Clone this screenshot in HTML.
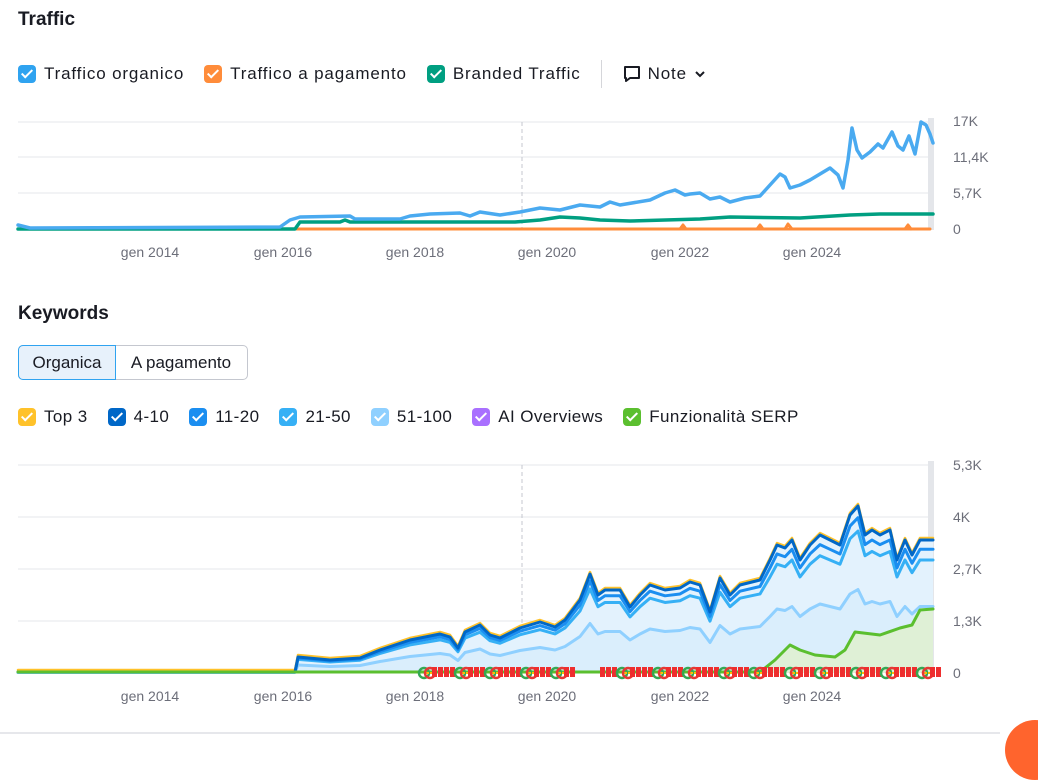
<!DOCTYPE html>
<html><head><meta charset="utf-8"><style>
body{margin:0;width:1038px;height:738px;background:#fff;font-family:"Liberation Sans",sans-serif;color:#191b23;position:relative;overflow:hidden}
.t{position:absolute;font-weight:bold;font-size:19px}
.lg{position:absolute;display:flex;align-items:center;font-size:17px;color:#191b23;letter-spacing:0.85px}
.cb{width:18px;height:18px;border-radius:4px;margin-right:8px;position:relative;display:inline-block}
.cb:after{content:"";position:absolute;left:6px;top:2px;width:4px;height:9px;border:solid #fff;border-width:0 2px 2px 0;transform:rotate(45deg)}
.it{display:flex;align-items:center;margin-right:20px}
.ax{position:absolute;font-size:14px;color:#6c6e79}
</style></head><body>
<div class="t" style="left:18px;top:9px">Traffic</div>
<div class="lg" style="left:18px;top:60px">
<span class="it"><span class="cb" style="background:#2fa3f0"></span>Traffico organico</span>
<span class="it"><span class="cb" style="background:#ff8c3a"></span>Traffico a pagamento</span>
<span class="it"><span class="cb" style="background:#009f81"></span>Branded Traffic</span>
<span style="width:1px;height:28px;background:#d5d6da;margin:0 20px 0 0"></span>
<span class="it">
<svg width="20" height="20" viewBox="0 0 20 20" style="margin-right:6px"><path d="M3 3h14v11H8l-4 3v-3H3z" fill="none" stroke="#191b23" stroke-width="2" stroke-linejoin="round"/></svg>Note <svg width="14" height="14" style="margin-left:6px"><path d="M3 5l4 4 4-4" fill="none" stroke="#191b23" stroke-width="2"/></svg></span>
</div>
<div class="t" style="left:18px;top:303px">Keywords</div>
<div style="position:absolute;left:18px;top:345px;width:228px;height:33px;border:1px solid #c4c7cf;border-radius:5px;font-size:17px;display:flex">
<div style="width:96px;background:#e7f1fb;border:1px solid #2fa3f0;border-radius:5px 0 0 5px;margin:-1px;display:flex;align-items:center;justify-content:center">Organica</div>
<div style="flex:1;display:flex;align-items:center;justify-content:center">A pagamento</div></div>
<div class="lg" style="left:18px;top:407px;letter-spacing:0.4px">
<span class="it"><span class="cb" style="background:#ffc22a"></span>Top 3</span>
<span class="it"><span class="cb" style="background:#0067c7"></span>4-10</span>
<span class="it"><span class="cb" style="background:#1b8ef0"></span>11-20</span>
<span class="it"><span class="cb" style="background:#36b0f5"></span>21-50</span>
<span class="it"><span class="cb" style="background:#8fd0ff"></span>51-100</span>
<span class="it"><span class="cb" style="background:#a970ff"></span>AI Overviews</span>
<span class="it"><span class="cb" style="background:#5bbf2f"></span>Funzionalità SERP</span>
</div>
<svg id="s" width="1038" height="738" style="position:absolute;left:0;top:0"></svg>
<div class="ax" style="left:953px;top:113px">17K</div>
<div class="ax" style="left:953px;top:149px">11,4K</div>
<div class="ax" style="left:953px;top:185px">5,7K</div>
<div class="ax" style="left:953px;top:221px">0</div>
<div class="ax" style="left:953px;top:457px">5,3K</div>
<div class="ax" style="left:953px;top:509px">4K</div>
<div class="ax" style="left:953px;top:561px">2,7K</div>
<div class="ax" style="left:953px;top:613px">1,3K</div>
<div class="ax" style="left:953px;top:665px">0</div>
<div style="position:absolute;left:0;top:732px;width:1000px;height:2px;background:#e6e7eb"></div>
<div style="position:absolute;left:1005px;top:720px;width:60px;height:60px;border-radius:50%;background:#ff642d"></div>
<script>
(function(){
var s=document.getElementById('s'),h='';
function grid(ys){ys.forEach(function(y){h+='<line x1="18" x2="933" y1="'+y+'" y2="'+y+'" stroke="#e6e7eb"/>'})}
grid([122,157,193,229]);
grid([465,517,569,621]);
h+='<rect x="928" y="118" width="6" height="112" fill="#e4e6ea"/><rect x="928" y="461" width="6" height="212" fill="#e4e6ea"/>';
h+='<line x1="522" x2="522" y1="122" y2="229" stroke="#c4c7cf" stroke-dasharray="4,3"/><line x1="522" x2="522" y1="465" y2="673" stroke="#c4c7cf" stroke-dasharray="4,3"/>';
var yrs=[[150,'gen 2014'],[283,'gen 2016'],[415,'gen 2018'],[547,'gen 2020'],[680,'gen 2022'],[812,'gen 2024']];
yrs.forEach(function(a){h+='<text x="'+a[0]+'" y="257" font-size="14" fill="#6c6e79" text-anchor="middle" font-family="Liberation Sans">'+a[1]+'</text><text x="'+a[0]+'" y="701" font-size="14" fill="#6c6e79" text-anchor="middle" font-family="Liberation Sans">'+a[1]+'</text>'});
function P(a){return a.map(function(p){return p[0]+','+p[1]}).join(' ')}
function pl(a,c,w){h+='<polyline points="'+P(a)+'" fill="none" stroke="'+c+'" stroke-width="'+w+'" stroke-linejoin="round" stroke-linecap="round"/>'}
var blue=[[18,225],[30,228],[280,227],[290,220],[300,217],[350,216],[355,219],[400,219],[410,216],[430,214],[460,213],[470,216],[480,212],[500,215],[520,212],[540,208],[560,210],[580,205],[600,207],[610,202],[620,205],[650,200],[665,193],[675,190],[685,195],[690,194],[700,193],[710,199],[720,197],[730,202],[745,198],[760,196],[770,185],[780,174],[785,177],[790,188],[800,185],[810,180],[830,168],[838,175],[843,188],[848,160],[852,128],[857,150],[862,158],[870,152],[878,144],[883,148],[892,132],[898,146],[903,150],[909,136],[915,154],[921,122],[926,125],[930,134],[933,143]];
pl([[18,229],[930,229]],'#ff8c3a',3);
pl([[590,229],[680,229],[683,225],[686,229],[757,229],[760,225],[763,229],[785,229],[788,224],[792,229],[905,229],[908,225],[911,229]],'#ff8c3a',3);
pl([[18,229],[295,229],[300,222],[340,222],[345,220],[350,222],[515,222],[540,220],[560,217],[580,218],[600,220],[630,221],[700,219],[730,217],[800,218],[850,215],[880,214],[933,214]],'#009f81',3.5);
pl(blue,'#4aaaf0',3.5);
var tp=[[18,672],[295,672],[298,657],[330,660],[360,658],[380,650],[395,645],[410,640],[440,634],[450,637],[458,648],[465,632],[480,625],[490,635],[500,638],[520,628],[540,622],[555,627],[565,620],[580,600],[590,574],[598,595],[605,590],[620,590],[630,607],[640,595],[650,585],[665,590],[680,588],[690,582],[700,585],[710,612],[720,578],[730,595],[740,585],[760,580],[770,560],[777,545],[785,548],[792,540],[800,560],[810,545],[820,535],[830,540],[840,545],[850,515],[858,506],[865,535],[872,530],[880,535],[890,530],[897,560],[905,540],[912,555],[920,540],[933,540]];
function sc(f){return tp.map(function(p){return [p[0],673-(673-p[1])*f]})}
var l51=sc(0.5);
h+='<polygon points="'+P(tp)+' 933,673 18,673" fill="#e3f2fd"/>';
h+='<polygon points="'+P(l51)+' 933,673 18,673" fill="#d3ebfb" opacity=".6"/>';
var sg=[[18,672],[760,672],[775,660],[790,645],[800,650],[815,655],[835,657],[845,650],[855,632],[880,635],[900,628],[912,625],[920,610],[933,609]];
h+='<polygon points="'+P(sg)+' 933,673 760,673" fill="#dff0d6"/>';
pl(l51,'#8fd0ff',3);pl(sc(0.85),'#36b0f5',3);pl(sc(0.93),'#1b8ef0',3);
pl(tp.map(function(p){return [p[0],p[1]-2]}),'#ffc22a',2.5);pl(tp,'#0067c7',3);
pl(sg,'#5bbf2f',3);
for(var x=420;x<940;x+=6){if(x>572&&x<598)continue;var r=(x*7)%11;
 if(r<4){h+='<circle cx="'+(x+4)+'" cy="673" r="5" fill="none" stroke="'+(r<2?'#e53935':'#34a853')+'" stroke-width="2.5"/><path d="M'+(x+4)+' 673h5" stroke="#fbbc05" stroke-width="2"/>'}
 else h+='<rect x="'+x+'" y="667" width="5" height="10" fill="#ee2e2e"/>';}
s.innerHTML=h;
})();
</script>
</body></html>
